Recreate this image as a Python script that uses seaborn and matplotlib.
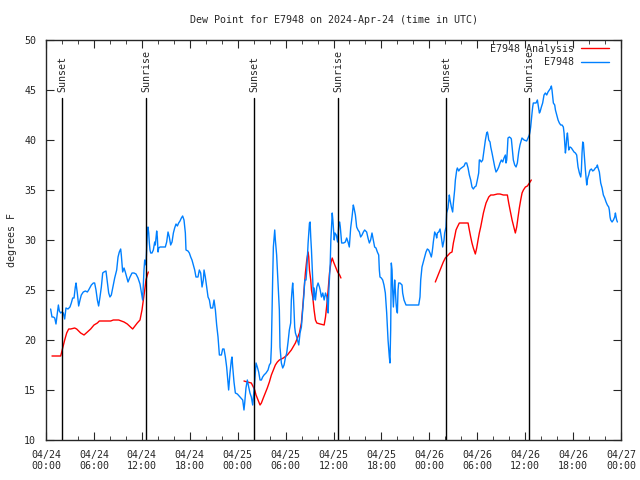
import seaborn as sns
import matplotlib
matplotlib.use('Agg')
import matplotlib.pyplot as plt
import matplotlib.dates as mdates
from matplotlib.lines import Line2D
import numpy as np
import pandas as pd

# Data (hours since 2024-04-24 00:00 UTC)
start = pd.Timestamp('2024-04-24 00:00')

obs_hours = [0.58, 0.75, 0.92, 1.09, 1.25, 1.42, 1.55, 1.67, 1.84, 2.0, 2.17, 2.34, 2.5, 2.75, 3.0, 3.17,
             3.34, 3.51, 3.67, 3.76, 3.92, 4.09, 4.26, 4.42, 4.67, 4.93, 5.18, 5.34, 5.68, 5.93, 6.09, 6.26,
             6.43, 6.59, 6.76, 6.93, 7.1, 7.26, 7.51, 7.68, 7.85, 8.01, 8.18, 8.35, 8.6, 8.85, 9.02, 9.18,
             9.35, 9.43, 9.6, 9.77, 9.93, 10.1, 10.27, 10.52, 10.77, 11.02, 11.27, 11.52, 11.77, 11.94, 12.1,
             12.27, 12.36, 12.52, 12.6, 12.69, 12.77, 12.86, 12.94, 13.02, 13.11, 13.27, 13.44, 13.61, 13.69,
             13.78, 13.86, 13.94, 14.03, 14.11, 14.28, 14.94, 15.11, 15.28, 15.44, 15.61, 15.78, 15.95, 16.11,
             16.28, 16.45, 16.61, 16.78, 16.95, 17.11, 17.28, 17.45, 17.53, 17.78, 17.95, 18.12, 18.28, 18.45,
             18.62, 18.78, 19.03, 19.2, 19.37, 19.54, 19.7, 19.79, 19.95, 20.12, 20.29, 20.46, 20.62, 20.87,
             21.04, 21.21, 21.37, 21.54, 21.71, 21.96, 22.12, 22.29, 22.46, 22.62, 22.79, 22.87, 23.04, 23.21,
             23.29, 23.38, 23.54, 23.71, 23.96, 24.29, 24.63, 24.79, 24.88, 25.04, 25.21, 25.38, 25.54, 25.71,
             25.88, 26.05, 26.21, 26.3, 26.46, 26.63, 26.8, 26.97, 27.13, 27.3, 27.55, 27.8, 27.97, 28.13,
             28.22, 28.3, 28.38, 28.47, 28.64, 28.72, 28.88, 29.05, 29.22, 29.3, 29.47, 29.64, 29.81, 29.97,
             30.14, 30.31, 30.47, 30.64, 30.72, 30.81, 30.89, 30.97, 31.06, 31.14, 31.23, 31.39, 31.56, 31.65,
             31.81, 31.98, 32.15, 32.31, 32.4, 32.56, 32.65, 32.82, 32.9, 32.99, 33.07, 33.15, 33.24, 33.4,
             33.49, 33.57, 33.74, 33.91, 34.07, 34.24, 34.33, 34.49, 34.66, 34.83, 35.0, 35.16, 35.25, 35.33,
             35.42, 35.59, 35.67, 35.75, 35.84, 35.92, 36.01, 36.09, 36.18, 36.35, 36.51, 36.68, 36.77, 36.85,
             37.02, 37.27, 37.48, 37.65, 37.82, 37.98, 38.15, 38.32, 38.48, 38.57, 38.74, 38.9, 39.07, 39.24,
             39.4, 39.57, 39.74, 39.9, 40.15, 40.32, 40.49, 40.65, 40.82, 40.99, 41.15, 41.32, 41.49, 41.66,
             41.74, 41.82, 41.99, 42.16, 42.32, 42.49, 42.66, 42.83, 42.99, 43.07, 43.16, 43.24, 43.33, 43.41,
             43.5, 43.66, 43.74, 43.83, 43.91, 44.0, 44.08, 44.16, 44.33, 44.58, 44.66, 44.83, 45.08, 46.67,
             46.83, 46.92, 47.0, 47.08, 47.25, 47.42, 47.58, 47.75, 47.92, 48.08, 48.25, 48.34, 48.42, 48.5,
             48.59, 48.67, 48.84, 48.92, 49.01, 49.18, 49.34, 49.5, 49.67, 49.84, 49.92, 50.0, 50.09, 50.17,
             50.34, 50.5, 50.59, 50.76, 50.92, 51.01, 51.17, 51.26, 51.43, 51.51, 51.68, 51.84, 52.18, 52.35,
             52.51, 52.68, 52.85, 53.01, 53.18, 53.34, 53.51, 53.68, 53.85, 54.01, 54.18, 54.26, 54.35, 54.51,
             54.68, 54.85, 55.02, 55.18, 55.27, 55.35, 55.44, 55.6, 55.69, 55.85, 56.02, 56.19, 56.35, 56.52,
             56.69, 56.85, 57.02, 57.19, 57.35, 57.52, 57.6, 57.69, 57.77, 57.85, 58.02, 58.19, 58.27, 58.36,
             58.52, 58.69, 58.86, 59.02, 59.19, 59.35, 59.52, 59.6, 59.86, 60.19, 60.36, 60.52, 60.6, 60.69,
             60.77, 60.86, 60.94, 61.02, 61.19, 61.36, 61.53, 61.69, 61.78, 61.86, 62.03, 62.19, 62.36, 62.53,
             62.7, 62.86, 63.03, 63.2, 63.28, 63.36, 63.45, 63.53, 63.7, 63.79, 63.95, 64.12, 64.28, 64.45,
             64.62, 64.78, 64.87, 64.95, 65.04, 65.12, 65.2, 65.29, 65.37, 65.46, 65.54, 65.62, 65.79, 65.96,
             66.12, 66.29, 66.45, 66.62, 66.79, 66.96, 67.04, 67.12, 67.21, 67.29, 67.37, 67.46, 67.54, 67.62,
             67.71, 67.79, 67.87, 67.96, 68.04, 68.13, 68.29, 68.46, 68.63, 68.79, 68.96, 69.04, 69.13, 69.29,
             69.37, 69.46, 69.63, 69.79, 69.96, 70.13, 70.29, 70.46, 70.54, 70.63, 70.71, 70.88, 71.05, 71.21,
             71.3, 71.38, 71.46, 71.55]

obs_dewpt = [23.1, 22.3, 22.3, 22.2, 21.6, 22.7, 23.5, 22.9, 22.7, 22.8, 22.7, 22.1, 23.2, 23.1, 23.3, 23.7,
             24.2, 24.2, 25.3, 25.7, 24.7, 23.4, 24.0, 24.5, 24.8, 24.9, 24.8, 25.0, 25.5, 25.7, 25.7, 25.0,
             24.0, 23.4, 24.3, 25.3, 26.7, 26.8, 26.9, 25.8, 24.7, 24.3, 24.5, 25.2, 26.2, 27.0, 28.3, 28.8,
             29.1, 28.5, 26.8, 27.2, 26.8, 26.3, 25.8, 26.3, 26.7, 26.7, 26.6, 26.2, 25.6, 24.8, 24.0,
             27.0, 28.0, 27.5, 29.0, 30.7, 31.3, 30.7, 29.7, 29.0, 28.7, 28.7, 29.0, 29.8, 29.5,
             30.3, 30.9, 30.3, 28.8, 29.2, 29.3, 29.3, 29.8, 30.8, 30.3, 29.5, 29.8, 30.7, 31.2,
             31.6, 31.4, 31.7, 31.9, 32.2, 32.4, 32.0, 30.7, 29.0, 28.9, 28.7, 28.3, 28.0, 27.5,
             27.0, 26.3, 26.3, 27.0, 26.7, 25.3, 26.0, 27.0, 26.3, 25.3, 24.3, 24.0, 23.2, 23.2,
             24.0, 23.0, 21.5, 20.3, 18.5, 18.5, 19.1, 19.1, 18.3, 17.3, 15.8, 15.0, 16.7, 18.0,
             18.3, 17.3, 15.8, 14.7, 14.6, 14.3, 14.0, 13.0, 13.7, 15.2, 16.0, 15.3, 14.7, 14.3,
             13.5, 15.0, 16.8, 17.7, 17.3, 16.8, 16.0, 16.0, 16.3, 16.5, 16.7, 17.0, 17.5, 17.7,
             19.3, 22.7, 26.0, 29.3, 31.0, 30.0, 28.5, 25.7, 23.0, 19.3, 17.7, 17.2, 17.5, 18.2,
             18.7, 19.8, 21.0, 21.7, 24.0, 25.0, 25.7, 24.7, 23.0, 21.3, 20.7, 20.3, 19.8, 19.5,
             20.7, 21.3, 23.0, 24.7, 26.0, 26.0, 27.0, 29.7, 30.7, 31.7, 31.8, 30.3, 29.0, 26.0,
             24.0, 25.2, 24.0, 25.3, 25.7, 25.3, 25.0, 24.3, 24.7, 24.0, 24.7, 24.3, 23.7, 22.7,
             25.0, 27.7, 30.0, 31.3, 32.7, 32.0, 31.0, 30.0, 30.7, 30.5, 29.8, 31.7, 31.8, 31.3,
             29.7, 29.7, 29.8, 30.2, 29.8, 29.3, 31.2, 32.3, 33.5, 33.2, 32.5, 31.3, 31.0, 30.8,
             30.3, 30.5, 30.8, 31.0, 30.8, 30.2, 29.7, 30.0, 30.7, 30.0, 29.3, 29.2, 28.8, 28.5,
             27.0, 26.3, 26.2, 26.0, 25.5, 24.7, 22.7, 20.0, 18.3, 17.7, 21.0, 27.7, 27.0, 25.0,
             23.3, 26.0, 25.0, 23.7, 23.0, 22.7, 25.0, 25.7, 25.7, 25.5, 24.7, 24.0, 23.5, 23.5,
             24.3, 26.0, 26.7, 27.3, 27.8, 28.3, 28.8, 29.1, 29.0, 28.7, 28.3, 28.7, 29.2, 29.8,
             30.3, 30.8, 30.5, 30.2, 30.7, 30.8, 31.1, 30.3, 29.3, 30.0, 30.7, 31.0, 31.3, 32.7,
             33.2, 34.5, 34.0, 33.3, 32.8, 33.7, 35.0, 36.0, 37.0, 37.2, 36.9, 37.1, 37.3, 37.4,
             37.7, 37.7, 37.2, 36.5, 36.0, 35.3, 35.1, 35.3, 35.4, 36.0, 36.7, 38.0, 38.0, 37.8,
             38.0, 39.0, 40.0, 40.7, 40.8, 40.5, 40.0, 39.8, 39.3, 38.7, 38.0, 37.3, 36.8, 37.0,
             37.3, 37.7, 38.0, 37.8, 38.2, 38.5, 37.7, 38.0, 39.0, 40.2, 40.3, 40.2, 40.1, 39.3,
             38.0, 37.5, 37.3, 37.7, 38.8, 39.5, 40.0, 40.2, 40.0, 39.9, 40.2, 40.5, 40.8, 41.3,
             42.0, 42.7, 43.3, 43.7, 43.7, 43.7, 44.0, 43.2, 42.7, 42.8, 43.3, 43.7, 44.5, 44.7,
             44.5, 44.8, 45.0, 45.2, 45.4, 45.0, 44.3, 43.7, 43.5, 43.0, 42.5, 42.0, 41.7, 41.5,
             41.5, 41.3, 40.7, 39.7, 38.7, 39.3, 40.2, 40.7, 40.0, 39.0, 39.2, 39.3, 39.2, 39.0,
             38.8, 38.7, 38.5, 37.3, 36.7, 36.3, 37.0, 38.7, 39.8, 39.7, 38.8, 37.8, 37.0, 36.3,
             35.5, 36.0, 36.3, 36.5, 36.8, 37.0, 37.1, 36.9, 37.0, 37.2, 37.3, 37.5, 37.2, 36.8,
             36.3, 35.7, 35.2, 34.5, 34.2, 33.8, 33.5, 33.3, 33.0, 32.3, 32.0, 31.8, 32.0, 32.3,
             32.7, 32.3, 32.0, 31.8]

# Analysis (nan = gap between runs)
anl_hours = [0.75, 1.84, 2.09, 2.34, 2.59, 2.84, 3.09, 3.59, 3.84, 4.34, 4.76, 5.18, 5.59, 6.01, 6.43,
             6.68, 8.1, 8.43, 9.1, 9.77, 10.18, 10.85, 11.43, 11.77, 12.02, 12.19, 12.36, 12.52, 12.69, 12.81,
             np.nan,
             24.79, 25.21, 25.71, 25.96, 26.13, 26.3, 26.55, 26.8, 26.97, 27.21, 27.46, 27.71, 27.97, 28.22,
             28.47, 28.72, 28.97, 29.22, 29.72, 30.22, 30.72, 31.23, 31.48, 31.73, 31.98, 32.15, 32.31, 32.48,
             32.65, 32.82, 32.9, 32.99, 33.15, 33.24, 33.4, 33.57, 33.74, 33.91, 34.33, 34.83, 35.0, 35.16,
             35.33, 35.5, 35.67, 35.84, 36.01, 36.26, 36.51, 36.77, 36.93,
             np.nan,
             48.75, 49.0, 49.25, 49.5, 49.75, 50.0, 50.25, 50.59, 50.84, 51.01, 51.17, 51.34, 51.51, 51.76,
             52.68, 52.85, 53.01, 53.18, 53.34, 53.51, 53.76, 53.93, 54.1, 54.26, 54.43, 54.6, 54.77, 54.93,
             55.1, 55.27, 55.44, 55.69, 56.02, 56.52, 56.85, 57.27, 57.77, 57.94, 58.11, 58.36, 58.61, 58.77,
             58.94, 59.11, 59.27, 59.44, 59.61, 59.78, 60.03, 60.28, 60.53, 60.77]

anl_dewpt = [18.4, 18.4, 19.2, 20.0, 20.7, 21.1, 21.1, 21.2, 21.1, 20.7, 20.5, 20.8, 21.1, 21.5, 21.7,
             21.9, 21.9, 22.0, 22.0, 21.8, 21.6, 21.1, 21.7, 22.0, 23.0, 24.0, 25.0, 26.0, 26.5, 26.8,
             np.nan,
             15.9, 15.8, 15.7, 15.3, 15.0, 14.5, 14.0, 13.5, 13.7, 14.2, 14.7, 15.2, 15.8, 16.5,
             17.0, 17.5, 17.8, 18.0, 18.2, 18.5, 19.0, 19.7, 20.2, 20.7, 21.7, 23.3, 25.0, 26.7,
             28.0, 28.8, 28.3, 27.0, 26.0, 25.0, 24.3, 23.0, 22.0, 21.7, 21.6, 21.5, 22.3, 23.5,
             25.0, 26.7, 27.7, 28.2, 27.8, 27.3, 26.8, 26.5, 26.2,
             np.nan,
             25.8, 26.3, 26.8, 27.3, 27.8, 28.2, 28.4, 28.7, 28.8, 29.7, 30.3, 31.0, 31.3, 31.7,
             31.7, 31.7, 31.0, 30.3, 29.7, 29.2, 28.6, 29.2, 30.0, 30.7, 31.3, 32.0, 32.7, 33.2,
             33.7, 34.0, 34.3, 34.5, 34.5, 34.6, 34.6, 34.5, 34.5, 33.7, 33.0, 32.0, 31.2, 30.7,
             31.3, 32.3, 33.2, 34.0, 34.7, 35.0, 35.3, 35.4, 35.7, 36.0]

sun_hours = [2.05, 12.56, 26.07, 36.6, 50.12, 60.52]
sun_labels = ['Sunset', 'Sunrise', 'Sunset', 'Sunrise', 'Sunset', 'Sunrise']

# Build frames
obs = pd.DataFrame({'time': start + pd.to_timedelta(obs_hours, unit='h'), 'dewpt': obs_dewpt})
anl = pd.DataFrame({'hours': anl_hours, 'dewpt': anl_dewpt})
anl['seg'] = anl['hours'].isna().cumsum()
anl = anl.dropna()
anl['time'] = start + pd.to_timedelta(anl['hours'], unit='h')

# Plot
sns.set_style('ticks')
plt.rcParams['font.family'] = ['DejaVu Sans Mono']
fs = 7.2
plt.rcParams['font.size'] = fs

red = '#ff0000'
blue = '#0080ff'

fig = plt.figure(figsize=(6.4, 4.8), dpi=100)
ax = fig.add_axes([46 / 640, 40 / 480, 575 / 640, 400 / 480])

sns.lineplot(data=anl, x='time', y='dewpt', units='seg', estimator=None, color=red,
             linewidth=1.0, legend=False, ax=ax)
sns.lineplot(data=obs, x='time', y='dewpt', color=blue, linewidth=1.0, legend=False, ax=ax)

# Sunrise / sunset markers
for h, lab in zip(sun_hours, sun_labels):
    t = start + pd.Timedelta(hours=h)
    ax.plot([t, t], [10, 44.2], color='black', linewidth=1.0)
    ax.text(t, 44.8, lab, rotation=90, ha='center', va='bottom', fontsize=fs)

# Axes
ax.set_xlim(start, start + pd.Timedelta(days=3))
ax.set_ylim(10, 50)
ax.set_yticks(range(10, 51, 5))
ax.xaxis.set_major_locator(mdates.HourLocator(byhour=range(0, 24, 6)))
ax.xaxis.set_minor_locator(mdates.HourLocator(byhour=range(0, 24, 2)))
ax.xaxis.set_major_formatter(mdates.DateFormatter('%m/%d\n%H:%M'))
ax.tick_params(which='major', direction='in', length=6, top=True, right=True, labelsize=fs, pad=7)
ax.tick_params(which='minor', direction='in', length=3, top=True, right=True)
for s in ax.spines.values():
    s.set_linewidth(1.0)

ax.set_title('Dew Point for E7948 on 2024-Apr-24 (time in UTC)', fontsize=fs, pad=12)
ax.set_xlabel('')
ax.set_ylabel('degrees F', fontsize=fs, labelpad=5)

handles = [Line2D([], [], color=red, linewidth=1.0), Line2D([], [], color=blue, linewidth=1.0)]
ax.legend(handles, ['E7948 Analysis', 'E7948'], loc='upper right', frameon=False, markerfirst=False,
          fontsize=fs, handlelength=2.8, borderaxespad=0.3, labelspacing=0.35, handletextpad=0.7,
          bbox_to_anchor=(1 - 5 / 575, 1 + 3 / 400))

# Save Figure
plt.savefig('out.png', dpi=100)
